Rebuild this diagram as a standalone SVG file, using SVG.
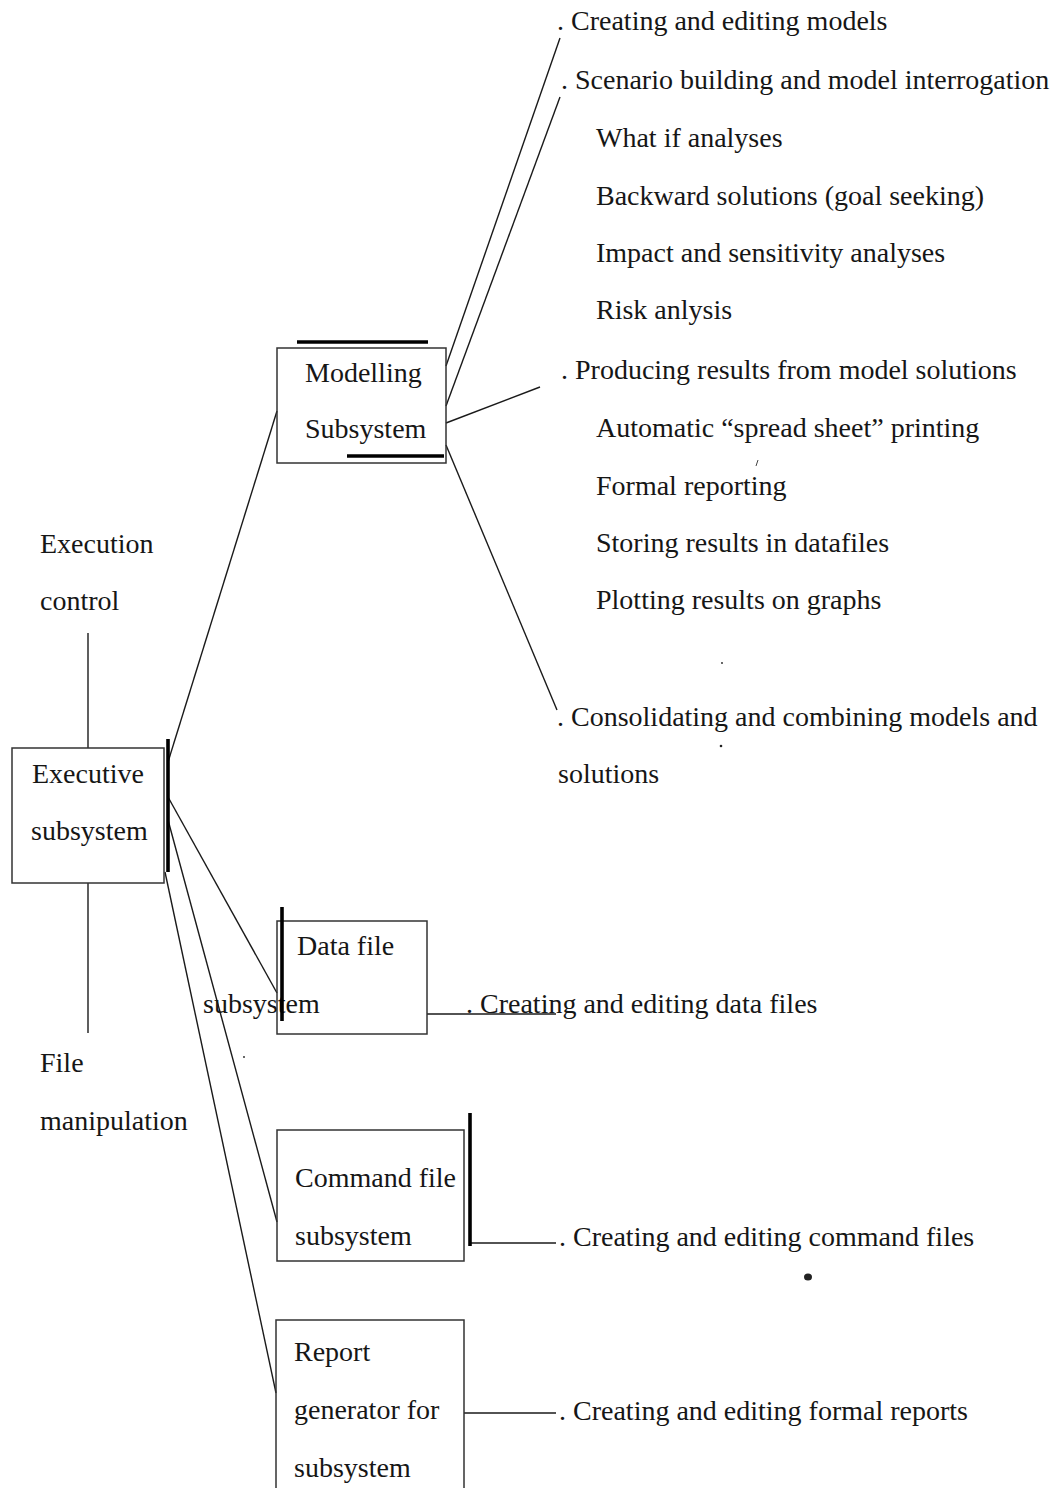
<svg xmlns="http://www.w3.org/2000/svg" width="1053" height="1488" viewBox="0 0 1053 1488">
<style>
text{font-family:"Liberation Serif","Times New Roman",serif;font-size:28px;fill:#161616}
.box{fill:none;stroke:#333;stroke-width:1.5}
.bar{stroke:#000;stroke-width:3.6;stroke-linecap:butt}
.ln{fill:none;stroke:#1a1a1a;stroke-width:1.4}
</style>
<rect width="1053" height="1488" fill="#fff"/>

<g id="connectors">
<line class="ln" x1="88" y1="633" x2="88" y2="748"/>
<line class="ln" x1="88" y1="883" x2="88" y2="1033"/>
<line class="ln" x1="168" y1="762" x2="277" y2="411"/>
<line class="ln" x1="168" y1="797" x2="277" y2="993"/>
<line class="ln" x1="168" y1="820" x2="277" y2="1222"/>
<line class="ln" x1="165" y1="872" x2="276" y2="1393"/>
<line class="ln" x1="446" y1="366" x2="560" y2="38"/>
<line class="ln" x1="446" y1="406" x2="560" y2="97"/>
<line class="ln" x1="446" y1="423" x2="540" y2="387"/>
<line class="ln" x1="446" y1="445" x2="557" y2="710"/>
<line class="ln" x1="427" y1="1014" x2="556" y2="1014"/>
<line class="ln" x1="470" y1="1243" x2="556" y2="1243"/>
<line class="ln" x1="464" y1="1413" x2="556" y2="1413"/>
</g>

<g id="node-executive">
<rect class="box" x="12" y="748" width="152" height="135"/>
<text x="32" y="783">Executive</text>
<text x="31" y="840">subsystem</text>
<line class="bar" x1="168" y1="739" x2="168" y2="872"/>
</g>

<g id="node-modelling">
<rect class="box" x="277" y="348" width="169" height="115"/>
<text x="305" y="382">Modelling</text>
<text x="305" y="438">Subsystem</text>
<line class="bar" x1="297" y1="342" x2="428" y2="342"/>
<line class="bar" x1="347" y1="456" x2="444" y2="456"/>
</g>

<g id="node-datafile">
<rect class="box" x="277" y="921" width="150" height="113"/>
<text x="297" y="955">Data file</text>
<text x="203" y="1013">subsystem</text>
<line class="bar" x1="282" y1="907" x2="282" y2="1021"/>
</g>

<g id="node-commandfile">
<rect class="box" x="277" y="1130" width="187" height="131"/>
<text x="295" y="1187">Command file</text>
<text x="295" y="1245">subsystem</text>
<line class="bar" x1="470" y1="1113" x2="470" y2="1246"/>
</g>

<g id="node-report">
<path class="box" d="M276 1500 V1320 H464 V1500"/>
<text x="294" y="1361">Report</text>
<text x="294" y="1419">generator for</text>
<text x="294" y="1477">subsystem</text>
</g>

<g id="side-labels">
<text x="40" y="553">Execution</text>
<text x="40" y="610">control</text>
<text x="40" y="1072">File</text>
<text x="40" y="1130">manipulation</text>
</g>

<g id="modelling-functions">
<text x="557" y="30">. Creating and editing models</text>
<text x="561" y="89">. Scenario building and model interrogation</text>
<text x="596" y="147">What if analyses</text>
<text x="596" y="205">Backward solutions (goal seeking)</text>
<text x="596" y="262">Impact and sensitivity analyses</text>
<text x="596" y="319">Risk anlysis</text>
<text x="561" y="379">. Producing results from model solutions</text>
<text x="596" y="437">Automatic “spread sheet” printing</text>
<text x="596" y="495">Formal reporting</text>
<text x="596" y="552">Storing results in datafiles</text>
<text x="596" y="609">Plotting results on graphs</text>
<text x="557" y="726">. Consolidating and combining models and</text>
<text x="558" y="783">solutions</text>
</g>

<g id="other-functions">
<text x="466" y="1013">. Creating and editing data files</text>
<text x="559" y="1246">. Creating and editing command files</text>
<text x="559" y="1420">. Creating and editing formal reports</text>
</g>

<g id="specks" fill="#222">
<ellipse cx="808" cy="1277" rx="4" ry="3.5"/>
<circle cx="721" cy="746" r="1.3"/>
<circle cx="722" cy="663" r="0.9"/>
<circle cx="244" cy="1057" r="0.9"/>
<line x1="756" y1="466" x2="758" y2="460" stroke="#444" stroke-width="1"/>
</g>
</svg>
